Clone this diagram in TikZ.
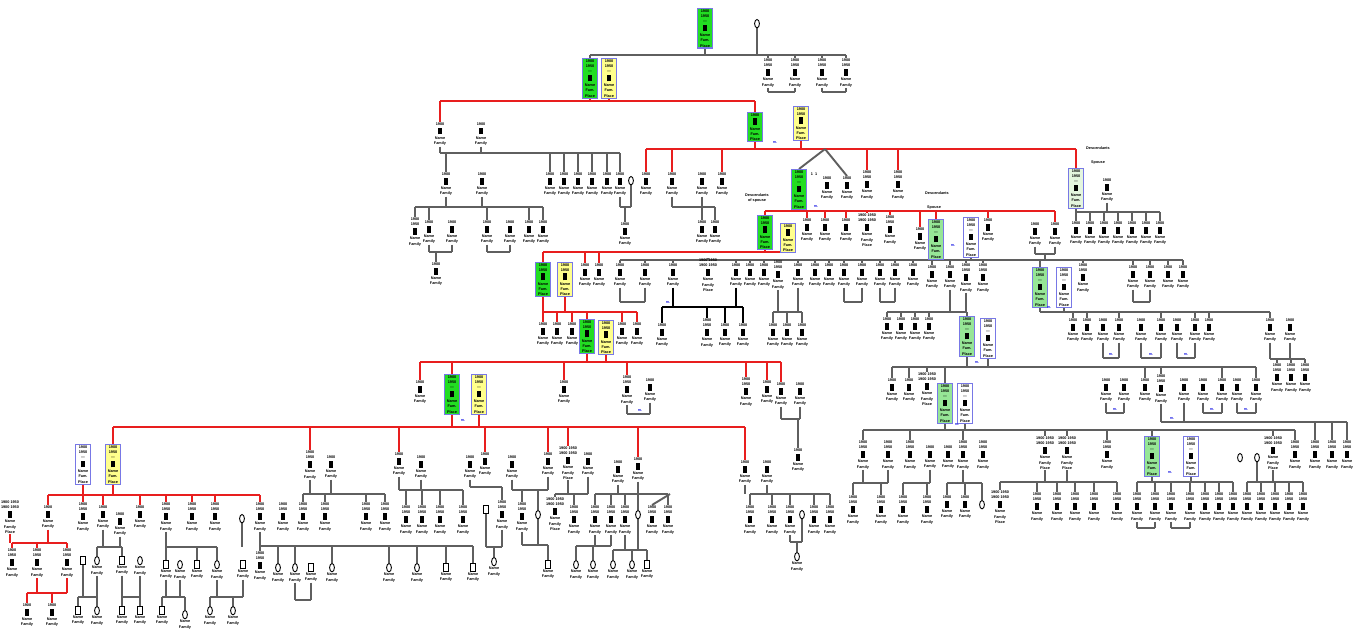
\documentclass[tikz,border=0pt]{standalone}
\usepackage{fontspec}
\setmainfont{Liberation Sans}
\usetikzlibrary{shapes.geometric}
\pgfdeclarelayer{back}\pgfdeclarelayer{bg}
\pgfsetlayers{back,bg,main}
\definecolor{grn}{RGB}{34,221,34}
\definecolor{yel}{RGB}{255,255,140}
\definecolor{lgr}{RGB}{150,230,150}
\definecolor{lgb}{RGB}{228,246,222}
\definecolor{bbd}{RGB}{120,120,230}
\definecolor{redl}{RGB}{232,30,30}
\definecolor{grl}{RGB}{95,95,95}
\definecolor{blt}{RGB}{40,40,230}
\newcommand\pf{\fontsize{1.9}{2.6}\selectfont\bfseries}
\newcommand\ic{\rule{2.2pt}{3.4pt}}
\newcommand\cA{1900\\\ic\\Name\\Fam.\\Place}
\newcommand\cB{1900\\1950\\\ic\\Name\\Fam.\\Place}
\newcommand\cC{1900\\1950\\---\\\ic\\Name\\Fam.\\Place}
\tikzset{
 pers/.style={anchor=north,inner sep=0.3pt,align=center,font=\pf},
 bx/.style={anchor=north,draw=bbd,line width=0.55pt,inner sep=0.5pt,align=center,font=\pf,minimum width=7.6pt},
 ovl/.style={anchor=north,draw=black,ellipse,line width=0.45pt,minimum width=2.4pt,minimum height=4.2pt,inner sep=0pt},
 rct/.style={anchor=north,draw=black,rectangle,line width=0.45pt,minimum width=2.4pt,minimum height=4pt,inner sep=0pt},
 lab/.style={align=center,font=\pf,inner sep=0.3pt},
 gl/.style={draw=grl,line width=0.95pt},
 bl/.style={draw=grl,line width=0.75pt},
 rl/.style={draw=redl,line width=1.2pt},
 kl/.style={draw=black,line width=0.95pt},
 blu/.style={text=blt,font=\pf,inner sep=0pt},
 dsc/.style={font=\pf,inner sep=0.5pt,align=center}
}
\newcommand\pA[3]{\node[pers] (#1) at (#2,#3) {1900\\\ic\\Name\\Family};}
\newcommand\pB[3]{\node[pers] (#1) at (#2,#3) {1900\\1950\\\ic\\Name\\Family};}
\newcommand\pC[3]{\node[pers] (#1) at (#2,#3) {1900 1950\\1900 1950\\\ic\\Name\\Family\\Place};}
\newcommand\bX[5]{\node[bx,fill=#4] (#1) at (#2,#3) {#5};}
\newcommand\pOv[3]{\node[ovl] (#1) at (#2,#3) {};}
\newcommand\pOvT[3]{\node[ovl,label={[lab,name=#1l]below:{Name\\Family}}] (#1) at (#2,#3) {};}
\newcommand\pRq[3]{\node[rct] (#1) at (#2,#3) {};}
\newcommand\pRqT[3]{\node[rct,label={[lab,name=#1l]below:{Name\\Family}}] (#1) at (#2,#3) {};}
\newcommand\kin[5]{\coordinate (fb) at (0,#2);\draw[#1] (#3 |- fb) -- (#4 |- fb);\foreach \n in {#5}{\draw[#1] (\n) -- (\n |- fb);}}
\begin{document}
\begin{tikzpicture}[x=0.5pt,y=-0.5pt]
\useasboundingbox (0,0) rectangle (1368,639);
\begin{pgfonlayer}{back}\fill[white] (0,0) rectangle (1368,639);\end{pgfonlayer}
% generation 0-2
\bX{g0}{705}{8}{grn}{\cC}
\pOv{c0}{757}{19}
\bX{g1}{590}{58}{grn}{\cC}
\bX{y1}{609}{58}{yel}{\cC}
\pB{ra}{768}{58}\pB{rb}{795}{58}\pB{rc}{822}{58}\pB{rd}{846}{58}
\pA{pa}{440}{122}\pA{pb}{481}{122}
\bX{g2}{755}{112}{grn}{\cA}
\bX{y2}{801}{106}{yel}{\cB}
\node[blu] (bl1) at (775,142) {m.};
% left upper
\pA{ka}{446}{172}\pA{kb}{482}{172}\pA{kc}{550}{172}\pA{kd}{564}{172}\pA{ke}{578}{172}\pA{kf}{592}{172}\pA{kg}{607}{172}\pA{kh}{620}{172}\pOv{kc0}{631}{176}
\pB{la}{415}{217}\pA{lb}{429}{220}\pA{lc}{452}{220}\pA{ld}{487}{220}\pA{le}{510}{220}\pA{lf}{529}{220}\pA{lg}{543}{220}
\pA{lx}{625}{222}
\pA{ma}{436}{262}
% right upper
\pA{qa}{646}{172}\pA{qb}{672}{172}\pA{qc}{702}{172}\pA{qd}{722}{172}
\bX{g3}{799}{169}{grn}{\cC}
\node[dsc] (one) at (814,174) {1\ \ 1};
\pA{qe}{827}{176}\pA{qf}{847}{176}\pB{qg}{867}{170}\pB{qh}{898}{170}
\pA{qi}{702}{220}\pA{qj}{715}{220}
\node[blu] (bl2) at (816,206) {m.};
\node[dsc] (d1) at (757,198) {Descendants\\of spouse};
\node[dsc] (d2) at (937,193) {Descendants};
\node[dsc] (d2b) at (934,208) {Spouse};
\node[dsc] (d3) at (1098,148) {Descendants};
\node[dsc] (d3b) at (1098,163) {Spouse};
\bX{lbx}{1076}{168}{lgb}{\cC}
\pA{lbs}{1107}{178}
\pA{ta}{1076}{221}\pA{tb}{1090}{221}\pA{tc}{1104}{221}\pA{td}{1118}{221}\pA{te}{1132}{221}\pA{tf}{1146}{221}\pA{tg}{1160}{221}
\bX{g4}{765}{215}{grn}{\cB}
\bX{y4}{788}{223}{yel}{\cA}
\pA{sa}{807}{218}\pA{sb}{825}{218}\pA{sc}{846}{218}\pC{sd}{867}{213}\pB{se}{890}{215}\pA{sf}{920}{227}
\bX{lg1}{936}{219}{lgr}{\cC}
\bX{w1}{971}{217}{white}{\cC}
\node[blu] (bl3) at (953,245) {m.};
\pA{sg}{988}{218}\pA{sh}{1035}{222}\pA{si}{1055}{222}
\coordinate (jn1) at (1045,254);
\bX{g6}{543}{262}{grn}{\cB}\bX{y6}{565}{262}{yel}{\cB}
\pA{ua}{585}{263}\pA{ub}{599}{263}
\pA{va}{620}{263}\pA{vb}{645}{263}\pA{vc}{673}{263}\pC{vd}{708}{258}\pA{ve}{736}{263}\pA{vf}{750}{263}\pA{vg}{764}{263}\pB{vh}{778}{260}\pA{vi}{798}{263}\pA{vj}{815}{263}\pA{vk}{829}{263}\pA{vl}{844}{263}\pA{vm}{862}{263}\pA{vn}{880}{263}\pA{vo}{895}{263}\pA{vp}{913}{263}\pA{vq}{932}{265}\pA{vr}{950}{265}\pB{vs}{966}{263}\pB{vt}{983}{263}
\bX{lg2}{1040}{267}{lgr}{\cC}\bX{w2}{1064}{267}{white}{\cC}
\node[blu] (bl5) at (1049,307) {m.};
\pB{vu}{1083}{263}\pA{vv}{1133}{265}\pA{vw}{1150}{265}\pA{vx}{1168}{265}\pA{vy}{1183}{265}
\pA{xa}{662}{323}\pB{xb}{707}{318}\pA{xc}{725}{323}\pA{xd}{743}{323}
\node[blu] (bl4) at (668,302) {m.};
\pA{xe}{773}{323}\pA{xf}{787}{323}\pA{xg}{802}{323}
\pA{ya}{887}{317}\pA{yb}{901}{317}\pA{yc}{915}{317}\pA{yd}{929}{317}
\bX{lg3}{967}{316}{lgr}{\cC}\bX{w3}{988}{318}{white}{\cC}
\node[blu] (bl6) at (977,362) {m.};
\pA{za}{1073}{318}\pA{zb}{1087}{318}\pA{zc}{1103}{318}\pA{zd}{1119}{318}\pA{ze}{1141}{318}\pA{zf}{1161}{318}\pA{zg}{1177}{318}\pA{zh}{1195}{318}\pA{zi}{1209}{318}\pA{zj}{1270}{318}\pA{zk}{1290}{318}
\node[blu] (bl7) at (1111,354) {m.};\node[blu] (bl8) at (1151,354) {m.};\node[blu] (bl9) at (1186,354) {m.};
\pB{zl}{1277}{363}\pB{zm}{1291}{363}\pB{zn}{1305}{363}
\pA{aa}{892}{378}\pA{ab}{909}{378}\pC{ac}{927}{372}
\bX{lg4}{945}{383}{lgr}{\cC}\bX{w4}{965}{383}{white}{\cC}
\node[blu] (bl10) at (957,424) {m.};
\pA{ad}{1106}{378}\pA{ae}{1124}{378}\pA{af}{1145}{378}\pB{ag}{1161}{374}\pA{ah}{1184}{378}\pA{ai}{1203}{378}\pA{aj}{1222}{378}\pA{ak}{1237}{378}\pA{al}{1256}{378}
\node[blu] (bl11) at (1115,409) {m.};\node[blu] (bl12) at (1212,409) {m.};\node[blu] (bl13) at (1246,409) {m.};\node[blu] (bl14) at (1172,418) {m.};
\pB{am}{1315}{440}\pB{an}{1332}{440}\pB{ao}{1347}{440}
\pB{ba}{863}{440}\pB{bb}{888}{440}\pB{bc}{910}{440}\pA{bd}{930}{445}\pA{be}{948}{445}\pB{bf}{963}{440}\pB{bg}{983}{440}\pC{bh}{1045}{436}\pC{bi}{1067}{436}\pB{bj}{1107}{440}
\bX{lg5}{1152}{436}{lgr}{\cC}\bX{w5}{1191}{436}{white}{\cC}
\node[blu] (bl15) at (1170,472) {m.};
\pOv{bo1}{1240}{453}\pOv{bo2}{1257}{453}\pC{bk}{1273}{436}\pB{bm}{1295}{440}
\pB{ca}{853}{495}\pB{cb}{881}{495}\pB{cc}{903}{495}\pB{cd}{927}{495}\pA{ce}{947}{495}\pA{cf}{965}{495}\pOv{cg}{982}{500}
\pC{ch}{1000}{490}\pB{ci}{1037}{492}\pB{cj}{1057}{492}\pB{ck}{1075}{492}\pB{cl}{1094}{492}\pB{cm}{1117}{492}
\pB{cn}{1137}{492}\pB{co}{1155}{492}\pB{cp}{1171}{492}\pB{cq}{1190}{492}\pB{cr}{1205}{492}\pB{cs}{1219}{492}\pB{ct}{1233}{492}
\pB{cu}{1247}{492}\pB{cv}{1261}{492}\pB{cw}{1275}{492}\pB{cx}{1289}{492}\pB{cy}{1303}{492}
% left main line
\pA{wa}{543}{322}\pA{wb}{557}{322}\pA{wc}{572}{322}
\bX{g7}{587}{319}{grn}{\cB}\bX{y7}{606}{320}{yel}{\cB}
\pA{wd}{622}{322}\pA{we}{637}{322}
\pA{m1}{420}{380}
\bX{g5}{452}{374}{grn}{\cC}\bX{y5}{479}{374}{yel}{\cC}
\node[blu] (bl16) at (463,420) {m.};
\pA{m3}{564}{380}\pB{m4}{627}{375}\pA{m5}{650}{378}
\node[blu] (bl17) at (640,410) {m.};
\pB{m6}{746}{377}\pA{m7}{767}{380}\pA{m8}{781}{382}\pA{m9}{800}{382}\pA{m10}{798}{448}
\bX{b6}{83}{444}{white}{\cC}\bX{y6b}{113}{444}{yel}{\cC}
\pB{n1}{310}{450}\pA{n2}{331}{455}\pA{n3}{399}{452}\pA{n4}{421}{455}\pA{n5s}{470}{455}\pA{n5}{485}{452}\pA{n6s}{512}{455}\pA{n6}{548}{452}\pC{n7}{568}{446}\pA{n7s}{588}{452}\pA{n8s}{618}{460}\pA{n8}{638}{457}\pA{n10}{745}{460}\pA{n11}{767}{460}
\pC{o0}{10}{500}\pA{o1}{48}{505}\pB{o2}{83}{502}\pA{o3}{103}{505}\pA{o4}{120}{512}\pA{o5}{140}{505}\pB{o6}{166}{502}\pB{o7}{192}{502}\pB{o8}{215}{502}\pOv{ov9}{242}{514}\pB{o10}{260}{502}
\pB{q1}{12}{548}\pB{q2}{37}{548}\pB{q3}{67}{548}
\pA{r1}{27}{603}\pA{r2}{52}{603}
\pOvT{e1}{97}{556}\pRqT{e2}{122}{556}\pOvT{e5}{140}{556}\pRq{e8}{83}{556}
\pRqT{e3}{78}{606}\pOvT{e4}{97}{606}\pRqT{e6}{122}{606}\pRqT{e7}{140}{606}
\pRqT{f1}{166}{560}\pOvT{f0}{180}{560}\pRqT{f2}{197}{560}\pOvT{f3}{217}{560}\pRqT{f6}{243}{560}
\pRqT{f4}{162}{606}\pOvT{f5}{185}{610}\pOvT{f7}{210}{606}\pOvT{f8}{233}{606}
\pB{h1}{260}{551}\pOvT{h2}{278}{563}\pOvT{h3}{295}{563}\pRqT{h4}{311}{563}\pOvT{h5}{332}{563}\pOvT{h6}{389}{563}\pOvT{h7}{417}{563}\pRqT{h8}{446}{563}\pRqT{h9}{473}{563}
\pB{i0}{283}{502}\pB{i1}{303}{502}\pB{i2}{325}{502}\pB{i3}{366}{502}\pB{i4}{385}{502}
\pB{j1}{406}{505}\pB{j2}{422}{505}\pB{j3}{440}{505}\pB{j4}{463}{505}
\pRq{k0}{486}{505}\pB{k1}{502}{500}\pOvT{k2}{494}{557}
\pB{k3}{522}{502}\pOv{k4}{538}{510}\pRqT{k5}{548}{560}
\pC{k6}{555}{497}\pB{k7}{574}{505}
\pB{k8}{595}{505}\pB{k9}{611}{505}\pB{k10}{625}{505}\pOv{k11}{638}{510}\pB{k12}{652}{505}\pB{k13}{668}{505}
\pOvT{k14}{576}{560}\pOvT{k15}{593}{560}\pOvT{k16}{613}{560}\pOvT{k17}{632}{560}\pRqT{k18}{647}{560}
\pB{k19}{750}{505}\pB{k20}{772}{505}\pB{k21}{790}{505}\pOv{k22}{802}{510}\pB{k23}{814}{505}\pB{k24}{830}{505}
\pOvT{k25}{797}{552}
\coordinate (tw) at (825,149);
\coordinate (tw2) at (670,494);
% ---------------- connectors
\begin{pgfonlayer}{bg}
\kin{gl}{55}{g1.north}{rd.north}{g0.south,c0.south,g1.north,ra.north,rb.north,rc.north,rd.north}
\kin{bl}{92}{ra.south}{rb.south}{ra.south,rb.south}
\kin{bl}{92}{rc.south}{rd.south}{rc.south,rd.south}
\kin{rl}{101}{pa.north}{g2.north}{g1.south,y1.south,pa.north,g2.north}
\kin{gl}{153}{pa.south}{kh.north}{pa.south,pb.south,ka.north,kc.north,kd.north,ke.north,kf.north,kg.north,kh.north}
\kin{bl}{207}{kh.south}{kc0.south}{kh.south,kc0.south,lx.north}
\kin{gl}{207}{la.north}{lg.north}{ka.south,kb.south,la.north,lb.north,ld.north,lf.north,lg.north}
\kin{bl}{252}{lb.south}{lc.south}{lb.south,lc.south,ma.north}
\kin{bl}{252}{ld.south}{le.south}{ld.south,le.south}
\kin{rl}{149}{qa.north}{lbx.north}{g2.south,y2.south,qa.north,qb.north,qd.north,qg.north,qh.north,lbx.north}
\draw[gl] (tw) -- (g3.north);
\draw[gl] (tw) -- (qf.north);
\kin{gl}{207}{qb.south}{qj.north}{qb.south,qc.south,qi.north,qj.north}
\kin{gl}{212}{lbx.south}{tg.north}{lbx.south,lbs.south,ta.north,tb.north,tc.north,td.north,te.north,tf.north,tg.north}
\kin{rl}{211}{g4.north}{si.north}{g3.south,g4.north,sa.north,sb.north,sc.north,sd.north,se.north,sf.north,lg1.north,sg.north,si.north}
\kin{bl}{254}{sh.south}{si.south}{sh.south,si.south}
\kin{rl}{252}{g6.north}{y4.south}{g4.south,y4.south,g6.north,ua.north,ub.north}
\kin{gl}{260}{va.north}{vy.north}{lg1.south,w1.south,jn1,va.north,vb.north,vc.north,vd.north,ve.north,vf.north,vg.north,vh.north,vi.north,vj.north,vk.north,vl.north,vm.north,vn.north,vo.north,vp.north,vq.north,vr.north,vs.north,vt.north,lg2.north,vu.north,vv.north,vw.north,vx.north,vy.north}
\kin{bl}{302}{va.south}{vb.south}{va.south,vb.south}
\kin{bl}{302}{vl.south}{vm.south}{vl.south,vm.south}
\kin{bl}{302}{vn.south}{vo.south}{vn.south,vo.south}
\kin{bl}{302}{vv.south}{vw.south}{vv.south,vw.south}
\kin{kl}{307}{xa.north}{xd.north}{vc.south,ve.south,xa.north,xb.north,xc.north,xd.north}
\kin{gl}{312}{xe.north}{xg.north}{vh.south,vi.south,xe.north,xf.north,xg.north}
\kin{gl}{312}{ya.north}{lg3.north}{vr.south,vs.south,ya.north,yb.north,yc.north,yd.north,lg3.north}
\kin{gl}{312}{lg2.south}{zj.north}{lg2.south,w2.south,za.north,zb.north,zd.north,zf.north,zh.north,zi.north,zj.north}
\kin{bl}{358}{zc.south}{zd.south}{zc.south,zd.south}
\kin{bl}{358}{ze.south}{zf.south}{ze.south,zf.south}
\kin{bl}{358}{zg.south}{zh.south}{zg.south,zh.south}
\kin{gl}{359}{zj.south}{zn.north}{zj.south,zk.south,zl.north,zm.north,zn.north}
\kin{gl}{367}{aa.north}{al.north}{lg3.south,w3.south,aa.north,ab.north,ac.north,lg4.north,af.north,ag.north,aj.north,al.north}
\kin{bl}{413}{ad.south}{ae.south}{ad.south,ae.south}
\kin{bl}{413}{ai.south}{aj.south}{ai.south,aj.south}
\kin{bl}{413}{ak.south}{al.south}{ak.south,al.south}
\kin{bl}{422}{ag.south}{ao.north}{ag.south,ah.south,am.north,an.north,ao.north}
\kin{gl}{430}{ba.north}{bm.north}{lg4.south,w4.south,ba.north,bc.north,bf.north,bh.north,bi.north,bj.north,lg5.north,bk.north,bm.north}
\kin{gl}{483}{ca.north}{bb.south}{ba.south,bb.south,ca.north,cb.north}
\kin{gl}{483}{cc.north}{bd.south}{bd.south,cc.north,cd.north}
\kin{gl}{483}{ce.north}{cg.north}{bf.south,ce.north,cf.north,cg.north}
\kin{gl}{482}{ch.north}{cm.north}{bh.south,bi.south,ch.north,ci.north,cj.north,ck.north,cl.north,cm.north}
\kin{gl}{482}{cn.north}{ct.north}{lg5.south,w5.south,cn.north,co.north,cp.north,cq.north,cr.north,cs.north,ct.north}
\kin{bl}{528}{cn.south}{co.south}{cn.south,co.south}
\kin{bl}{528}{cp.south}{cq.south}{cp.south,cq.south}
\kin{gl}{482}{cu.north}{cy.north}{bo2.south,bk.south,cu.north,cv.north,cw.north,cx.north,cy.north}
% left main line
\kin{rl}{312}{wa.north}{we.north}{g6.south,y6.south,wa.north,wb.north,wc.north,g7.north,wd.north,we.north}
\kin{rl}{362}{m1.north}{m8.north}{g7.south,y7.south,m1.north,g5.north,m3.north,m4.north,m6.north,m7.north,m8.north}
\kin{bl}{414}{m4.south}{m5.south}{m4.south,m5.south}
\kin{bl}{419}{m8.south}{m9.south}{m8.south,m9.south,m10.north}
\kin{rl}{427}{y6b.north}{n10.north}{g5.south,y5.south,y6b.north,n1.north,n3.north,n5.north,n6.north,n7.north,n8.north,n10.north}
\kin{rl}{495}{o1.north}{o10.north}{b6.south,y6b.south,o1.north,o2.north,o3.north,o5.north,o6.north,o7.north,o8.north,o10.north}
\kin{rl}{543}{q1.north}{q3.north}{o0.south,o1.south,q1.north,q2.north,q3.north}
\kin{rl}{593}{r1.north}{q3.south}{q2.south,q3.south,r1.north,r2.north}
\kin{gl}{547}{e1.north}{e2.north}{o3.south,o4.south,e1.north,e2.north}
\kin{gl}{597}{e3.north}{e4.north}{e8.south,e1l.south,e3.north,e4.north}
\kin{gl}{597}{e6.north}{e7.north}{e2l.south,e5l.south,e6.north,e7.north}
\kin{gl}{547}{f1.north}{f3.north}{o6.south,ov9.south,f1.north,f2.north,f3.north}
\kin{gl}{597}{f4.north}{f5.north}{f1l.south,f0l.south,f4.north,f5.north}
\kin{gl}{597}{f7.north}{f6l.south}{f3l.south,f6l.south,f7.north,f8.north}
\kin{gl}{546}{o10.south}{h9.north}{o10.south,h1.north,h2.north,h3.north,h5.north,h6.north,h7.north,h8.north,h9.north}
\kin{bl}{600}{h3l.south}{h4l.south}{h3l.south,h4l.south}
\kin{gl}{494}{i1.north}{i4.north}{n1.south,n2.south,i1.north,i2.north,i3.north,i4.north}
\kin{gl}{490}{n3.south}{j4.north}{n3.south,n4.south,j1.north,j2.north,j3.north,j4.north}
\kin{gl}{487}{n5s.south}{k1.north}{n5s.south,k1.north}
\kin{gl}{547}{k0.south}{k1.south}{k0.south,k1.south,k2.north}
\kin{gl}{490}{n6s.south}{n6.south}{n6s.south,n6.south,k3.north,k4.north}
\kin{gl}{545}{k3.south}{k5.north}{k3.south,k4.south,k5.north}
\kin{gl}{494}{k6.north}{n7s.south}{n7.south,n7s.south,k6.north,k7.north}
\kin{gl}{494}{k8.north}{k13.north}{n8s.south,n8.south,k8.north,k9.north,k10.north,k11.north,k13.north}
\draw[gl] (tw2) -- (k12.north);
\kin{gl}{546}{k14.north}{k9.south}{k8.south,k9.south,k14.north,k15.north}
\kin{gl}{550}{k16.north}{k18.north}{k10.south,k11.south,k16.north,k17.north,k18.north}
\kin{gl}{494}{k19.north}{k24.north}{n10.south,n11.south,k19.north,k20.north,k21.north,k23.north,k24.north}
\kin{gl}{542}{k21.south}{k22.south}{k21.south,k22.south,k25.north}
\end{pgfonlayer}
\end{tikzpicture}
\end{document}
